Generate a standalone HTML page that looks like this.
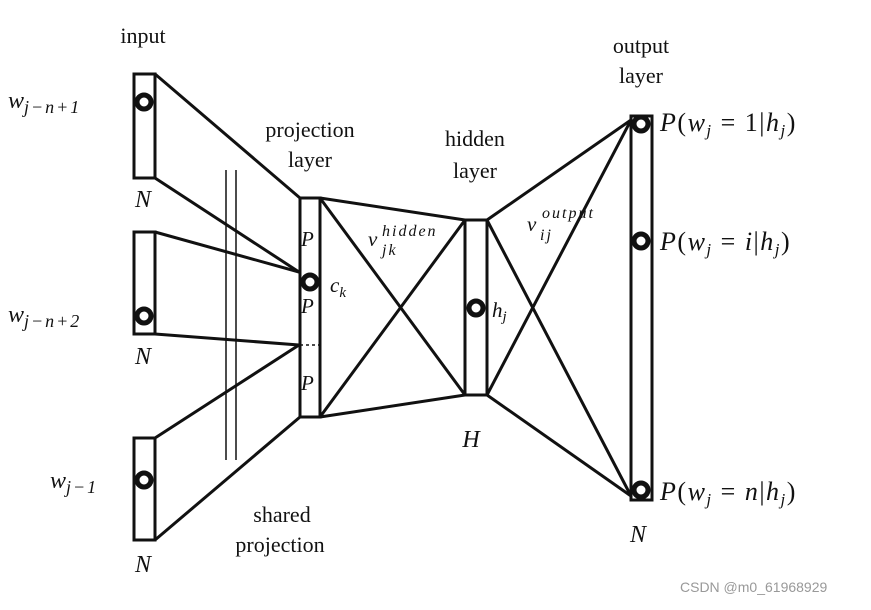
<!DOCTYPE html>
<html><head><style>
body{margin:0;background:#fff;}
svg text{font-family:"Liberation Serif",serif;fill:#111;}
.i{font-style:italic;}
</style></head><body>
<svg width="871" height="605" viewBox="0 0 871 605" xmlns="http://www.w3.org/2000/svg">
<g stroke="#111" stroke-width="3" fill="none">
<rect x="134" y="74" width="21" height="104"/>
<rect x="134" y="232" width="21" height="102"/>
<rect x="134" y="438" width="21" height="102"/>
<rect x="300" y="198" width="20" height="219"/>
<rect x="465" y="220" width="22" height="175"/>
<rect x="631" y="116" width="21" height="384"/>
<line x1="155" y1="74" x2="300" y2="198"/>
<line x1="155" y1="178" x2="299" y2="272"/>
<line x1="155" y1="232" x2="299" y2="272"/>
<line x1="155" y1="334" x2="299" y2="345"/>
<line x1="155" y1="438" x2="299" y2="345"/>
<line x1="155" y1="540" x2="300" y2="417"/>
<line x1="320" y1="198" x2="465" y2="220"/>
<line x1="320" y1="198" x2="465" y2="395"/>
<line x1="320" y1="417" x2="465" y2="220"/>
<line x1="320" y1="417" x2="465" y2="395"/>
<line x1="487" y1="220" x2="631" y2="120"/>
<line x1="487" y1="220" x2="631" y2="496"/>
<line x1="487" y1="395" x2="631" y2="120"/>
<line x1="487" y1="395" x2="631" y2="496"/>
</g>
<g stroke="#111" stroke-width="1.5">
<line x1="226" y1="170" x2="226" y2="460"/>
<line x1="236" y1="170" x2="236" y2="460"/>
<line x1="300" y1="345" x2="320" y2="345" stroke-dasharray="3,3"/>
</g>
<g fill="#fff" stroke="#111" stroke-width="5">
<circle cx="144" cy="102" r="7"/>
<circle cx="144" cy="316" r="7"/>
<circle cx="144" cy="480" r="7"/>
<circle cx="310" cy="282" r="7"/>
<circle cx="476" cy="308" r="7"/>
<circle cx="641" cy="124" r="7"/>
<circle cx="641" cy="241" r="7"/>
<circle cx="641" cy="490" r="7"/>
</g>
<g font-size="22" text-anchor="middle">
<text x="143" y="43">input</text>
<text x="310" y="137">projection</text>
<text x="310" y="167">layer</text>
<text x="475" y="146">hidden</text>
<text x="475" y="178">layer</text>
<text x="641" y="53">output</text>
<text x="641" y="83">layer</text>
<text x="282" y="522">shared</text>
<text x="280" y="552">projection</text>
</g>
<g font-size="24" class="i" text-anchor="middle">
<text class="i" x="143" y="207">N</text>
<text class="i" x="143" y="364">N</text>
<text class="i" x="143" y="572">N</text>
<text class="i" x="471" y="447">H</text>
<text class="i" x="638" y="542">N</text>
</g>
<g font-size="21" class="i">
<text class="i" x="301" y="246">P</text>
<text class="i" x="301" y="313">P</text>
<text class="i" x="301" y="390">P</text>
<text class="i" x="330" y="292">c<tspan font-size="15" dy="5">k</tspan></text>
<text class="i" x="492" y="317">h<tspan font-size="15" dy="4">j</tspan></text>
<text class="i" x="368" y="246">v</text>
<text class="i" x="382" y="236" font-size="16" letter-spacing="2">hidden</text>
<text class="i" x="382" y="255" font-size="16" letter-spacing="2">jk</text>
<text class="i" x="527" y="231">v</text>
<text class="i" x="542" y="218" font-size="16" letter-spacing="2">output</text>
<text class="i" x="540" y="240" font-size="16" letter-spacing="2">ij</text>
<text class="i" x="8" y="108" font-size="24">w<tspan font-size="18" dy="5" letter-spacing="2">j−n+1</tspan></text>
<text class="i" x="8" y="322" font-size="24">w<tspan font-size="18" dy="5" letter-spacing="2">j−n+2</tspan></text>
<text class="i" x="50" y="488" font-size="24">w<tspan font-size="18" dy="5" letter-spacing="2">j−1</tspan></text>
</g>
<g font-size="26" letter-spacing="1.5">
<text x="660" y="131"><tspan class="i">P</tspan>(<tspan class="i">w</tspan><tspan font-size="17" dy="5" class="i">j</tspan><tspan dy="-5"> = 1|</tspan><tspan class="i">h</tspan><tspan font-size="17" dy="5" class="i">j</tspan><tspan dy="-5">)</tspan></text>
<text x="660" y="250"><tspan class="i">P</tspan>(<tspan class="i">w</tspan><tspan font-size="17" dy="5" class="i">j</tspan><tspan dy="-5"> = </tspan><tspan class="i">i</tspan>|<tspan class="i">h</tspan><tspan font-size="17" dy="5" class="i">j</tspan><tspan dy="-5">)</tspan></text>
<text x="660" y="500"><tspan class="i">P</tspan>(<tspan class="i">w</tspan><tspan font-size="17" dy="5" class="i">j</tspan><tspan dy="-5"> = </tspan><tspan class="i">n</tspan>|<tspan class="i">h</tspan><tspan font-size="17" dy="5" class="i">j</tspan><tspan dy="-5">)</tspan></text>
</g>
<text x="680" y="592" font-size="14" style="font-family:'Liberation Sans',sans-serif;fill:#999">CSDN @m0_61968929</text>
</svg>
</body></html>
